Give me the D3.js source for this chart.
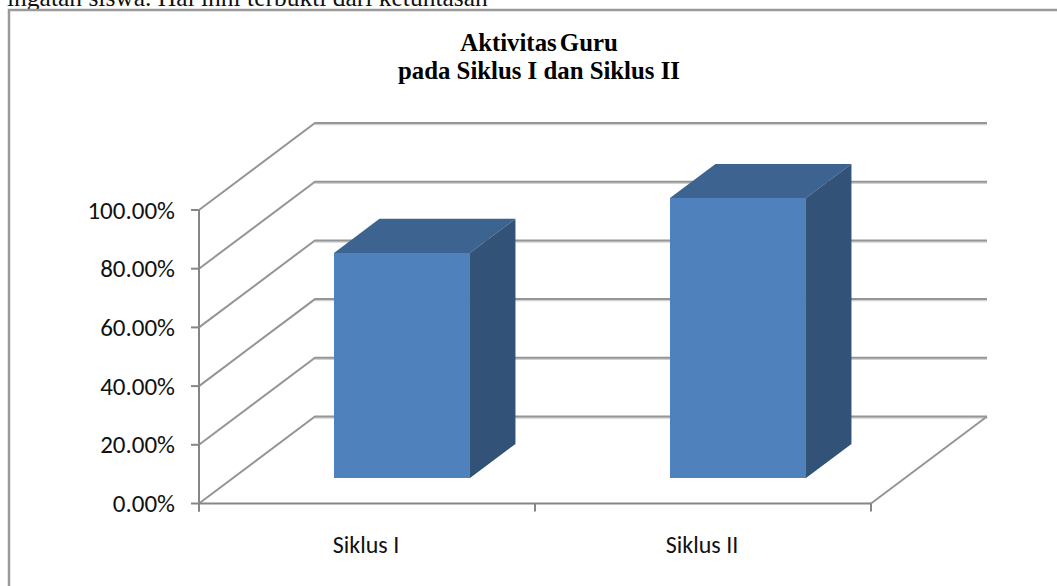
<!DOCTYPE html>
<html>
<head>
<meta charset="utf-8">
<script src="https://cdn.jsdelivr.net/npm/d3@7/dist/d3.min.js"></script>
<style>
html, body { margin: 0; padding: 0; background: #fff; overflow: hidden; }
svg { display: block; }
</style>
</head>
<body>
<script>
const categories = ["Siklus I", "Siklus II"];
const values = [0.767, 0.954];
const yTicks = [0, 0.2, 0.4, 0.6, 0.8, 1];
const titleLines = ["Aktivitas Guru", "pada Siklus I dan Siklus II"];
const runningText = "ingatan siswa. Hal ihni terbukti dari ketuntasan";

const width = 1057, height = 586;
const svg = d3.select("body").append("svg").attr("width", width).attr("height", height);

// Oblique projection of the 3D plot box
const depthX = 116, depthY = 87;
const y = d3.scaleLinear().domain([0, 1]).range([503.5, 210]);
const x = d3.scaleBand().domain(categories).range([199, 871]).paddingInner(0).paddingOuter(0);
const project = (px, py, d) => [px + depthX * d, py - depthY * d];
const path = pts => d3.line()(pts) + "Z";

const gridColor = "#959595", shadow = "#d2d2d2";

// Text line of the surrounding page, cut by the top edge
svg.append("text").attr("x", 7).attr("y", 6)
  .attr("font-family", "'Liberation Serif', serif").attr("font-size", 25.5)
  .attr("fill", "#111").text(runningText);

// Chart frame: open on the right and at the bottom
svg.append("path").attr("d", "M9,586V10H1057")
  .attr("fill", "none").attr("stroke", "#9a9a9a").attr("stroke-width", 2.5);

// Title
svg.append("g").selectAll("text").data(titleLines).join("text")
  .attr("x", 539).attr("y", (d, i) => 51 + i * 28)
  .attr("text-anchor", "middle")
  .attr("font-family", "'Liberation Serif', serif").attr("font-weight", "bold")
  .attr("font-size", 24.8).attr("word-spacing", (d, i) => i ? 0 : -3)
  .attr("fill", "#000").text(d => d);

// Side wall and back wall gridlines
const grid = svg.append("g").attr("fill", "none");
yTicks.forEach(t => {
  const front = [x.range()[0], y(t)];
  const back = project(front[0], front[1], 1);
  const end = [x.range()[1] + depthX, back[1]];
  grid.append("path").attr("d", d3.line()([[back[0], back[1] + 1.5], [end[0], end[1] + 1.5]]))
    .attr("stroke", shadow).attr("stroke-width", 1.5);
  grid.append("path").attr("d", d3.line()([front, back, end]))
    .attr("stroke", gridColor).attr("stroke-width", 2);
});

// Floor edge on the right
grid.append("path")
  .attr("d", d3.line()([[x.range()[1], y(0)], project(x.range()[1], y(0), 1)]))
  .attr("stroke", gridColor).attr("stroke-width", 2);

// Axes
const axisColor = "#868686";
const axes = svg.append("g").attr("stroke", axisColor).attr("stroke-width", 2);
axes.append("line").attr("x1", x.range()[0]).attr("x2", x.range()[0]).attr("y1", y(1)).attr("y2", y(0) + 8);
axes.append("line").attr("x1", x.range()[0]).attr("x2", x.range()[1]).attr("y1", y(0)).attr("y2", y(0));
axes.selectAll(".ytick").data(yTicks).join("line").attr("class", "ytick")
  .attr("x1", x.range()[0] - 8).attr("x2", x.range()[0]).attr("y1", d => y(d)).attr("y2", d => y(d));
axes.selectAll(".xtick").data([...categories.map(c => x(c)), x.range()[1]]).join("line").attr("class", "xtick")
  .attr("x1", d => d).attr("x2", d => d).attr("y1", y(0)).attr("y2", y(0) + 8);

const tickFont = "Carlito, Lato, sans-serif";
svg.append("g").selectAll("text").data(yTicks).join("text")
  .attr("x", 175).attr("y", d => y(d) + 8.5).attr("text-anchor", "end")
  .attr("font-family", tickFont).attr("font-size", 25).attr("fill", "#111")
  .text(d => d3.format(".2%")(d));

svg.append("g").selectAll("text").data(categories).join("text")
  .attr("x", d => x(d) + x.bandwidth() / 2 - 1).attr("y", 553).attr("text-anchor", "middle")
  .attr("font-family", tickFont).attr("font-size", 24).attr("fill", "#111").text(d => d);

// Bars: front, top and side faces
const barWidth = 136, nearDepth = 0.293, farDepth = 0.685;
const bars = svg.append("g").selectAll("g").data(categories.map((c, i) => ({ c, v: values[i] }))).join("g");
const corners = d => {
  const l = x(d.c) + x.bandwidth() / 2 - barWidth / 2 + 1;
  return { l, r: l + barWidth, top: y(d.v), base: y(0) };
};
const face = (a, b, c, e) => path([a, b, c, e]);
bars.append("path").attr("fill", "#3d6391").attr("d", d => {
  const { l, r, top } = corners(d);
  return face(project(l, top, nearDepth), project(r, top, nearDepth), project(r, top, farDepth), project(l, top, farDepth));
});
bars.append("path").attr("fill", "#325278").attr("d", d => {
  const { r, top, base } = corners(d);
  return face(project(r, top, nearDepth), project(r, top, farDepth), project(r, base, farDepth), project(r, base, nearDepth));
});
bars.append("path").attr("fill", "#4f81bd").attr("d", d => {
  const { l, r, top, base } = corners(d);
  return face(project(l, top, nearDepth), project(r, top, nearDepth), project(r, base, nearDepth), project(l, base, nearDepth));
});
</script>
</body>
</html>
